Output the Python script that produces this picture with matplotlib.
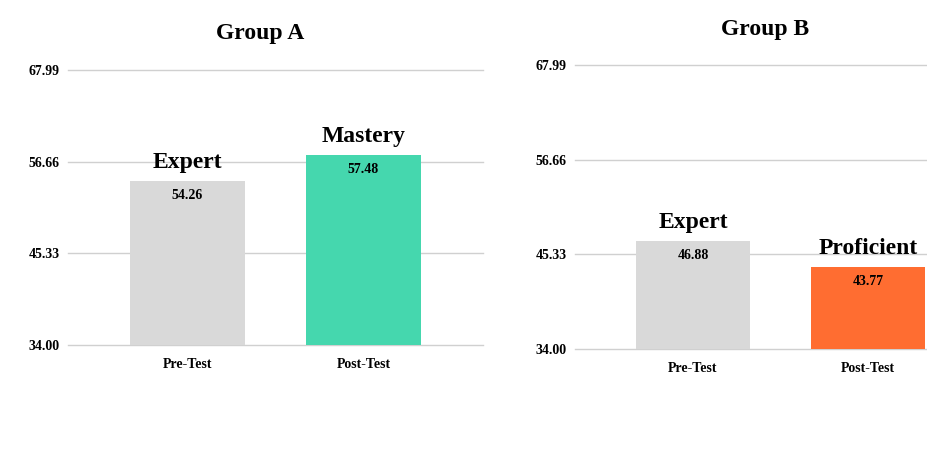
import matplotlib
matplotlib.use("Agg")
import matplotlib.pyplot as plt

groups = ["Group A", "Group B"]
categories = ["Pre-Test", "Post-Test"]
group_a_values = [54.26, 57.48]
group_b_values = [46.88, 43.77]
group_a_levels = ["Expert", "Mastery"]
group_b_levels = ["Expert", "Proficient"]
group_a_colors = ["#d9d9d9", "#45d7ae"]
group_b_colors = ["#d9d9d9", "#ff6d31"]
y_ticks = [34.00, 45.33, 56.66, 67.99]
y_tick_labels = ["34.00", "45.33", "56.66", "67.99"]

plt.rcParams['font.family'] = ['Liberation Serif', 'DejaVu Serif']
plt.rcParams['font.weight'] = 'bold'

W, H = 927, 466
fig = plt.figure(figsize=(W / 100, H / 100), dpi=100)

def px_axes(left, top, right, bottom):
    return fig.add_axes([left / W, 1 - bottom / H, (right - left) / W, (bottom - top) / H])

ax_a = px_axes(68, 70, 483, 345)
ax_b = px_axes(575, 65, 986, 349)

panels = [
    (ax_a, group_a_values, group_a_levels, group_a_colors, (-0.679, 1.679)),
    (ax_b, group_b_values, group_b_levels, group_b_colors, (-0.674, 1.674)),
]

for ax, vals, levels, colors, xl in panels:
    x = list(range(len(categories)))
    ax.bar(x, [v - y_ticks[0] for v in vals], bottom=y_ticks[0], width=0.655,
           color=colors, zorder=3)
    ax.set_xlim(*xl)
    ax.set_ylim(y_ticks[0], y_ticks[-1])
    ax.set_yticks(y_ticks)
    ax.set_yticklabels(y_tick_labels)
    ax.set_xticks(x)
    ax.set_xticklabels(categories)
    ax.grid(axis='y', color='#d0d0d0', linewidth=1.0, zorder=0)
    ax.set_axisbelow(True)
    for gl in ax.get_ygridlines():
        gl.set_clip_on(False)
    for s in ax.spines.values():
        s.set_visible(False)
    ax.tick_params(axis='both', length=0, labelsize=10)
    ax.tick_params(axis='y', pad=6)
    ax.tick_params(axis='x', pad=9)
    for lab in ax.get_xticklabels() + ax.get_yticklabels():
        lab.set_fontweight('bold')
    for xi, v, lev in zip(x, vals, levels):
        ax.annotate(f"{v:.2f}", (xi, v), xytext=(0, -8), textcoords='offset pixels',
                    ha='center', va='top', fontsize=10, fontweight='bold', zorder=5)
        ax.annotate(lev, (xi, v), xytext=(0, 13), textcoords='offset pixels',
                    ha='center', va='baseline', fontsize=17, fontweight='bold', zorder=5)

fig.text(260 / W, 1 - 33 / H, groups[0], ha='center', va='center', fontsize=17, fontweight='bold')
fig.text(765 / W, 1 - 29 / H, groups[1], ha='center', va='center', fontsize=17, fontweight='bold')

fig.savefig("out.png", dpi=100, facecolor='white')
